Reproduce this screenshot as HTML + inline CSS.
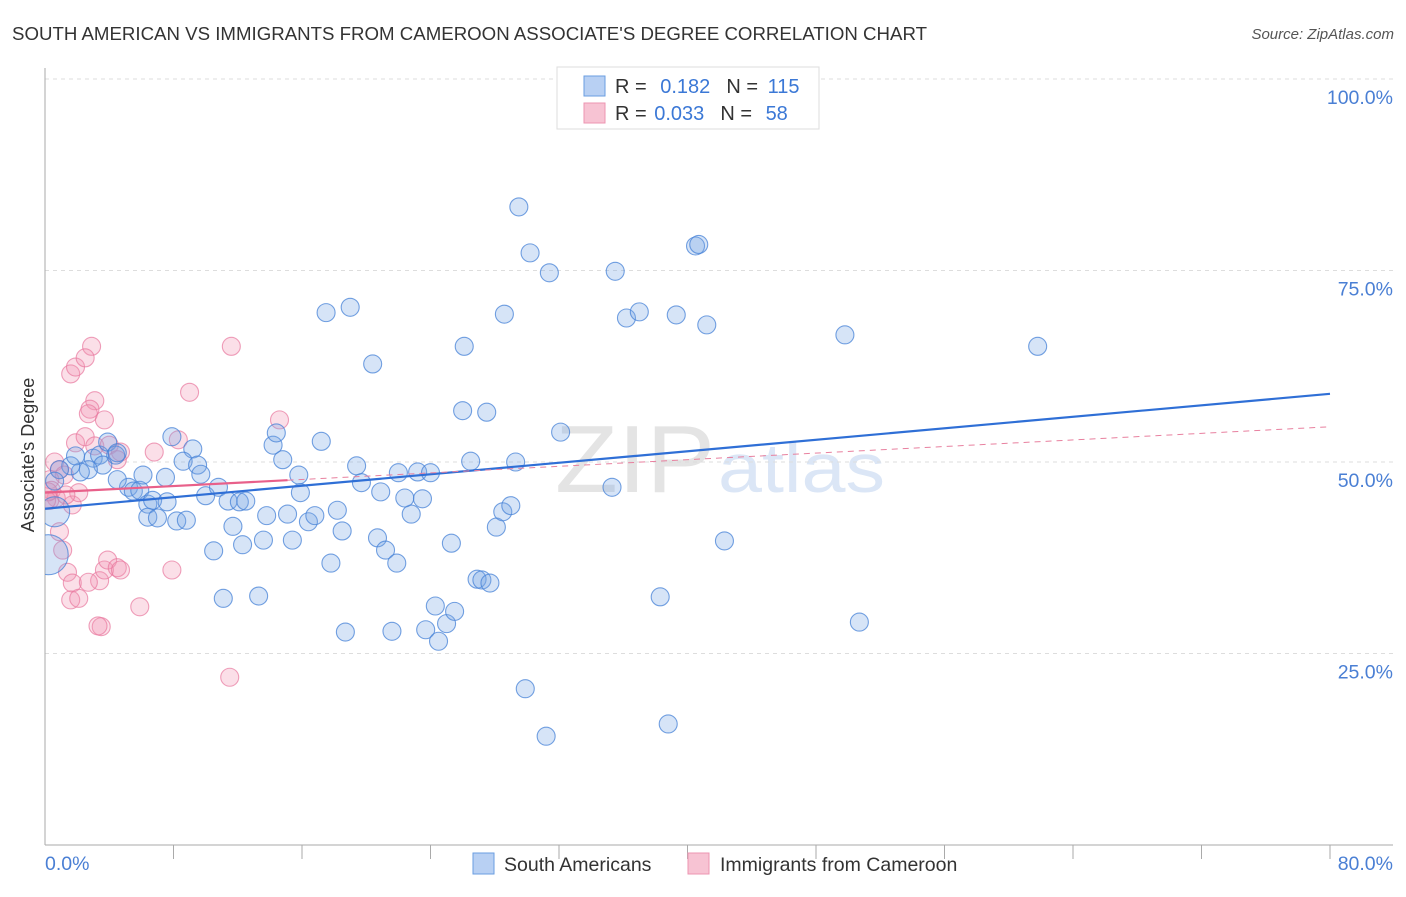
<!DOCTYPE html>
<html><head><meta charset="utf-8"><style>
body{margin:0;background:#fff;font-family:"Liberation Sans",sans-serif;}
svg text{font-family:"Liberation Sans",sans-serif;}
</style></head><body>
<svg id="chart" width="1406" height="892" viewBox="0 0 1406 892">
<defs><clipPath id="plotclip"><rect x="45" y="60" width="1360" height="786"/></clipPath></defs>
<text x="12" y="40" font-size="18" fill="#333" textLength="915" lengthAdjust="spacingAndGlyphs">SOUTH AMERICAN VS IMMIGRANTS FROM CAMEROON ASSOCIATE'S DEGREE CORRELATION CHART</text>
<text x="1394" y="39" font-size="15" fill="#555" font-style="italic" text-anchor="end">Source: ZipAtlas.com</text>
<text x="555" y="492" font-size="96" fill="#e4e4e4" font-family="Liberation Serif" textLength="160" lengthAdjust="spacingAndGlyphs">ZIP</text>
<text x="718" y="492" font-size="70" fill="#dbe6f6" textLength="167" lengthAdjust="spacingAndGlyphs">atlas</text>
<g id="grid"></g><g id="axes"></g><g id="pink" clip-path="url(#plotclip)"></g><g id="blue" clip-path="url(#plotclip)"></g><g id="trends"></g>
<g>
<rect x="557" y="67" width="262" height="62" fill="#fff" stroke="#ddd"/>
<rect x="584" y="76" width="21" height="20" fill="#b8d0f3" stroke="#6a9ee0"/>
<rect x="584" y="103" width="21" height="20" fill="#f7c3d3" stroke="#ec95b2"/>
<text x="615" y="93" font-size="20" fill="#333">R = <tspan fill="#3b78d6" dx="8">0.182</tspan><tspan fill="#333" dx="16">N = </tspan><tspan fill="#3b78d6" dx="4">115</tspan></text>
<text x="615" y="120" font-size="20" fill="#333">R = <tspan fill="#3b78d6" dx="2">0.033</tspan><tspan fill="#333" dx="16">N = </tspan><tspan fill="#3b78d6" dx="8">58</tspan></text>
</g>
<g>
<rect x="473" y="853" width="21" height="21" fill="#b8d0f3" stroke="#6a9ee0"/>
<text x="504" y="871" font-size="19.5" fill="#333">South Americans</text>
<rect x="688" y="853" width="21" height="21" fill="#f7c3d3" stroke="#ec95b2"/>
<text x="720" y="871" font-size="19.5" fill="#333">Immigrants from Cameroon</text>
</g>
<text x="34" y="455" font-size="18" fill="#333" text-anchor="middle" transform="rotate(-90 34 455)">Associate's Degree</text>
</svg>
<script>
const yTicks=[100,75,50,25];
const yTickLabels=["100.0%","75.0%","50.0%","25.0%"];
const xTickLabels=["0.0%","80.0%"];
const blueX=[29.5,30.2,31.4,35.5,40.5,40.7,17.5,19.0,28.6,36.2,37.0,39.3,41.2,49.8,61.8,26.1,20.4,26.0,27.5,32.1,26.5,29.3,35.3,42.3,38.3,50.7,38.8,31.2,29.9,7.9,9.2,8.6,9.5,9.7,10.0,10.8,11.4,12.1,12.5,11.7,12.3,11.1,13.3,13.6,13.8,14.2,14.4,14.8,15.8,15.9,15.1,15.4,16.4,16.8,17.2,17.8,18.2,18.5,18.7,19.4,19.7,20.9,20.7,21.2,21.9,21.6,22.0,22.8,22.4,23.2,23.5,24.0,23.7,24.3,24.5,25.0,25.5,25.3,26.9,27.2,27.7,28.1,28.5,29.0,3.0,3.4,3.9,4.4,4.5,3.6,2.7,2.2,1.6,0.9,0.6,1.9,5.2,5.5,5.9,6.4,6.7,7.6,6.4,7.0,8.2,8.8,10.5,4.5,6.1,7.5];
const blueY=[83.3,77.3,74.7,74.9,78.2,78.4,69.5,70.2,69.3,68.8,69.6,69.2,67.9,66.6,65.1,65.1,62.8,56.7,56.5,53.9,50.1,50.0,46.7,39.7,32.4,29.1,15.8,14.2,20.4,53.3,51.7,50.1,49.6,48.4,45.6,46.7,44.9,44.8,44.9,41.6,39.2,32.2,32.5,39.8,43.0,52.2,53.8,50.3,48.3,46.0,43.2,39.8,42.2,43.0,52.7,36.8,43.7,41.0,27.8,49.5,47.3,46.1,40.1,38.5,36.8,27.9,48.6,43.2,45.3,48.7,45.2,48.6,28.1,31.2,26.6,28.9,30.5,39.4,34.7,34.6,34.2,41.5,43.5,44.3,50.5,50.9,52.6,50.9,51.2,49.6,49.0,48.7,49.5,49.0,47.5,50.8,46.7,46.2,46.3,44.5,45.0,44.8,42.8,42.7,42.3,42.4,38.4,47.7,48.3,48.0];
const blueBigX=[0.2,0.6];
const blueBigY=[37.9,43.5];
const pinkX=[2.9,11.6,1.6,1.9,2.5,3.1,2.8,2.7,3.7,9.0,14.6,8.3,1.9,2.5,3.1,4.0,4.7,4.5,0.6,0.9,1.2,0.3,0.4,0.7,1.7,2.1,0.9,1.1,1.4,1.7,1.6,2.1,3.4,3.7,3.9,4.5,4.7,2.7,3.5,3.3,5.9,7.9,11.5,6.8,0.3,0.1,0.2,1.3];
const pinkY=[65.1,65.1,61.5,62.4,63.6,58.0,56.9,56.3,55.5,59.1,55.5,52.9,52.5,53.3,52.1,52.2,51.3,50.3,50.0,49.0,48.3,47.7,46.3,45.3,44.4,46.0,40.9,38.5,35.6,34.2,32.0,32.2,34.5,35.9,37.2,36.2,35.9,34.3,28.5,28.6,31.1,35.9,21.9,51.3,45.0,45.0,46.1,45.7];
const blueTrend=[43.9,58.9];
const pinkTrend=[46.0,54.6];
const pinkSolidEnd=15.1;

const X0=45,X1=1330,Y0=845,Y1=79;
const sx=v=>X0+(v/80)*(X1-X0);
const sy=v=>Y0-(v/100)*(Y0-Y1);
const NS="http://www.w3.org/2000/svg";
function mk(tag,attrs,parent){const e=document.createElementNS(NS,tag);for(const k in attrs)e.setAttribute(k,attrs[k]);parent.appendChild(e);return e;}
const grid=document.getElementById('grid'),axes=document.getElementById('axes');
yTicks.forEach((t,i)=>{
 const l=mk('line',{x1:X0,x2:1393,y1:sy(t),y2:sy(t),stroke:'#ddd','stroke-dasharray':'4,4'},grid);
 
 
 const tx=mk('text',{x:1393,y:sy(t)+25,'font-size':19.5,fill:'#4a7fd4','text-anchor':'end'},axes);
 tx.textContent=yTickLabels[i];
 
 
});
const ya=mk('line',{x1:X0,x2:X0,y1:68,y2:Y0,stroke:'#aaa'},axes);


const xa=mk('line',{x1:X0,x2:1393,y1:Y0,y2:Y0,stroke:'#aaa'},axes);


for(let i=1;i<=10;i++){const t=mk('line',{x1:sx(i*8),x2:sx(i*8),y1:Y0,y2:Y0+14,stroke:'#aaa'},axes);
 
 }
const xl0=mk('text',{x:45,y:870,'font-size':19.5,fill:'#4a7fd4'},axes);xl0.textContent=xTickLabels[0];


const xl1=mk('text',{x:1393,y:870,'font-size':19.5,fill:'#4a7fd4','text-anchor':'end'},axes);xl1.textContent=xTickLabels[1];


const pg=document.getElementById('pink'),bg=document.getElementById('blue');
pinkX.forEach((x,i)=>{const c=mk('circle',{cx:sx(x),cy:sy(pinkY[i]),r:9,fill:'rgba(242,150,180,0.3)',stroke:'rgba(232,120,158,0.7)','stroke-width':1.1},pg);
 
 });
blueX.forEach((x,i)=>{const c=mk('circle',{cx:sx(x),cy:sy(blueY[i]),r:9,fill:'rgba(120,165,230,0.3)',stroke:'rgba(70,130,215,0.75)','stroke-width':1.1},bg);
 
 });
blueBigX.forEach((x,i)=>{const c=mk('circle',{cx:sx(x),cy:sy(blueBigY[i]),r:i==0?20:15,fill:'rgba(120,165,230,0.3)',stroke:'rgba(70,130,215,0.75)','stroke-width':1.1},bg);
 
 });
const tg=document.getElementById('trends');
const bt=mk('line',{x1:sx(0),y1:sy(blueTrend[0]),x2:sx(80),y2:sy(blueTrend[1]),stroke:'#2f6fd6','stroke-width':2.2},tg);


const pe=pinkTrend[0]+(pinkTrend[1]-pinkTrend[0])*pinkSolidEnd/80;
const pd=mk('line',{x1:sx(pinkSolidEnd),y1:sy(pe),x2:sx(80),y2:sy(pinkTrend[1]),stroke:'#e8809f','stroke-width':1,'stroke-dasharray':'6,5'},tg);


const ps=mk('line',{x1:sx(0),y1:sy(pinkTrend[0]),x2:sx(pinkSolidEnd),y2:sy(pe),stroke:'#e8608a','stroke-width':2.2},tg);


</script>
</body></html>
